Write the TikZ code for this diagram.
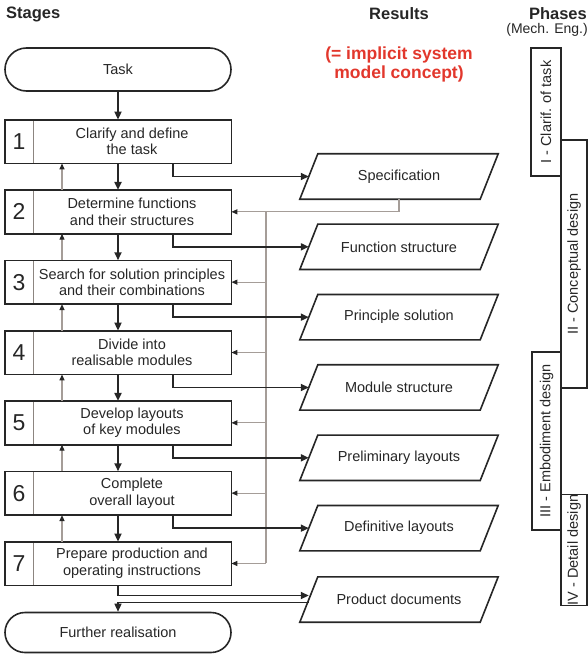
\documentclass[tikz,border=0pt]{standalone}
\usepackage{fontspec}
\setmainfont{Liberation Sans}
\usetikzlibrary{positioning,shapes.misc,arrows.meta}
\definecolor{ink}{HTML}{262626}
\definecolor{fbgray}{HTML}{A59D98}
\definecolor{divgray}{HTML}{8C8580}
\definecolor{accent}{HTML}{E2372C}

\begin{document}
\begin{tikzpicture}[x=1pt,y=-1pt,
    txt/.style={font=\fontsize{14.5}{16.5}\selectfont,text=ink,align=center,inner sep=0pt},
    numcell/.style={font=\fontsize{23}{23}\selectfont,text=ink,minimum width=28pt,minimum height=43pt,inner sep=0pt},
    stagecell/.style={txt,draw=divgray,line width=0.8pt,minimum width=198pt,minimum height=43pt},
    boxline/.style={draw=ink,line width=1.6pt},
    termbox/.style={txt,draw=ink,line width=1.6pt,rounded rectangle,minimum width=226pt,minimum height=43pt},
    resbox/.style={txt,minimum width=180pt,minimum height=45pt},
    phasebox/.style={font=\fontsize{14.5}{15}\selectfont,text=ink,draw=ink,line width=1.3pt,rotate=90,inner sep=0pt},
    head/.style={font=\fontsize{16.5}{18}\selectfont\bfseries,text=ink,inner sep=0pt},
    flow/.style={draw=ink,line width=1.8pt,-{Triangle[length=8pt,width=7pt]}},
    fb/.style={draw=fbgray,line width=1.2pt,-{Triangle[length=6pt,width=5pt,color=ink]}},
    fbline/.style={draw=fbgray,line width=1.2pt}]
  \useasboundingbox (0,0) rectangle (588,655);
  % column headers
  \node[head,anchor=west] (stages) at (6,14) {Stages};
  \node[head] (results) at (399,14) {Results};
  \node[head,anchor=east] (phases) at (587,14) {Phases};
  \node[font=\fontsize{14}{15}\selectfont,text=ink,anchor=east,inner sep=0pt] (mecheng) at (588,30) {(Mech. Eng.)};
  \node[font=\fontsize{17.5}{19}\selectfont\bfseries,text=accent,align=center,inner sep=0pt] (implicit) at (399,64)
    {(= implicit system\\model concept)};
  % helper columns
  \coordinate (midx) at (118,0);
  \coordinate (upx) at (62,0);
  \coordinate (outx) at (173,0);
  \coordinate (busx) at (266,0);
  % stages
  \node[termbox] (task) at (118,69.5) {Task};
  \foreach \n/\txt [evaluate=\n as \yc using 141.5+70.33*(\n-1)] in {
      1/{Clarify and define\\the task},
      2/{Determine functions\\and their structures},
      3/{Search for solution principles\\and their combinations},
      4/{Divide into\\realisable modules},
      5/{Develop layouts\\of key modules},
      6/{Complete\\overall layout},
      7/{Prepare production and\\operating instructions}}{
    \node[numcell] (num\n) at (19,\yc) {\n};
    \node[stagecell] (st\n) at (132,\yc) {\txt};
    \draw[boxline] (num\n.north west) rectangle (st\n.south east);
  }
  \node[termbox,minimum height=40pt] (further) at (118,632.5) {Further realisation};
  % results
  \foreach \n/\res [evaluate=\n as \yr using 176.5+70.33*(\n-1)] in {
      1/Specification,2/Function structure,3/Principle solution,
      4/Module structure,5/Preliminary layouts,6/Definitive layouts}{
    \node[resbox] (res\n) at (399,\yr) {\res};
  }
  \node[resbox] (res7) at (399,599.5) {Product documents};
  \foreach \n in {1,...,7}
    \draw[boxline] ([xshift=9pt]res\n.north west) -- ([xshift=9pt]res\n.north east)
      -- ([xshift=-9pt]res\n.south east) -- ([xshift=-9pt]res\n.south west) -- cycle;
  % phases
  \node[phasebox,minimum width=128pt,minimum height=30pt] (ph1) at (546,112) {I - Clarif. of task};
  \node[phasebox,minimum width=248pt,minimum height=26pt] (ph2) at (574,264) {II - Conceptual design};
  \node[phasebox,minimum width=178pt,minimum height=29pt] (ph3) at (546.5,441) {III - Embodiment design};
  \node[phasebox,minimum width=110pt,minimum height=26pt] (ph4) at (574,550) {IV - Detail design};
  % feedback (grey)
  \draw[fb] (res1.south) |- (st2.east);
  \draw[fbline] (st2.east -| busx) -- (st7.east -| busx);
  \foreach \n in {3,...,7}
    \draw[fb] (st\n.east -| busx) -- (st\n.east);
  \foreach \n [count=\m from 2] in {1,...,6}
    \draw[fb] (st\m.north -| upx) -- (st\n.south -| upx);
  % main flow
  \draw[flow] (task.south) -- (task.south |- st1.north);
  \foreach \n [count=\m from 2] in {1,...,6}
    \draw[flow] (st\n.south -| midx) -- (st\m.north -| midx);
  \foreach \n in {1,...,6}
    \draw[flow] (st\n.south -| outx) |- (res\n.west);
  \draw[flow] (st7.south -| midx) |- ([yshift=4pt]res7.west);
  \draw[flow,line width=1.3pt] ([yshift=-3pt]res7.west) -| (further.north);
\end{tikzpicture}
\end{document}
